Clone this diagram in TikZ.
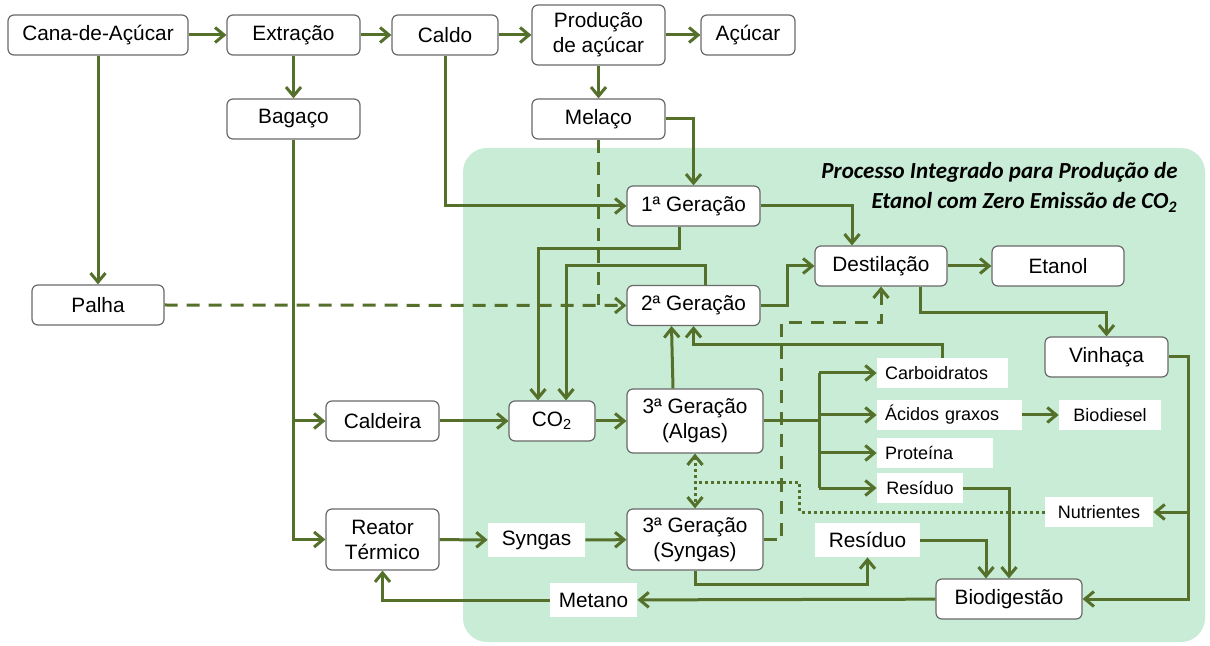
\documentclass[tikz,border=0pt]{standalone}
\usepackage{fontspec}
\setmainfont{Liberation Sans}
\newfontfamily\titlefont{Carlito}
\usetikzlibrary{arrows.meta, calc, positioning}
\definecolor{flowgreen}{RGB}{84,112,42}
\definecolor{areagreen}{RGB}{200,236,213}
\definecolor{boxgray}{RGB}{105,105,105}

\begin{document}
\begin{tikzpicture}[
    x=0.5pt, y=-0.5pt,
    every node/.style={font=\fontsize{10.4}{12.5}\selectfont},
    box/.style={draw=boxgray, fill=white, line width=0.6pt, rounded corners=3pt, minimum height=20pt, inner sep=1pt, align=center},
    lab/.style={fill=white, inner xsep=4pt, inner ysep=0pt, minimum height=15pt, text width=#1, align=left, font=\fontsize{9}{11}\selectfont},
    big_lab/.style={fill=white, inner sep=0pt, minimum height=17pt, minimum width=#1},
    pipe/.style={line width=1.5pt, flowgreen},
    flow/.style={pipe, ->, >={Straight Barb[length=4.5pt,width=7.5pt]}},
    dash_line/.style={pipe, dash pattern=on 6.5pt off 4.5pt},
    dash_flow/.style={flow, dash pattern=on 6.5pt off 4.5pt},
    dot_line/.style={pipe, dash pattern=on 1.5pt off 1.5pt},
    dot_flow/.style={flow, <->, dash pattern=on 1.5pt off 1.5pt}
]
    \useasboundingbox (0,0) rectangle (1210,646);

    % --- green area ---
    \fill[areagreen, rounded corners=12pt] (463,148) rectangle (1205,642);
    \node[anchor=north east, align=right, inner sep=0pt, font=\titlefont\bfseries\itshape\fontsize{11.5}{15}\selectfont] (title) at (1178,162)
        {Processo Integrado para Produção de\\Etanol com Zero Emissão de CO\textsubscript{2}};

    % --- top row ---
    \node[box, minimum width=90pt] (cana) at (98,35) {Cana-de-Açúcar};
    \node[box, minimum width=66.5pt] (extr) at (293.5,35) {Extração};
    \node[box, minimum width=53pt] (caldo) at (445,35) {Caldo};
    \node[box, minimum width=66.5pt, minimum height=30pt] (prod) at (598.5,35) {Produção\\de açúcar};
    \node[box, minimum width=47pt] (acucar) at (748,35) {Açúcar};
    \node[box, minimum width=66.5pt] (bagaco) at (293.5,119) {Bagaço};
    \node[box, minimum width=66.5pt] (melaco) at (598.5,119) {Melaço};

    % --- gerações ---
    \node[box, minimum width=66pt] (palha) at (98,305) {Palha};
    \node[box, minimum width=66.5pt] (g1) at (693.5,206) {1ª Geração};
    \node[box, minimum width=66.5pt] (g2) at (693.5,305.5) {2ª Geração};
    \node[box, minimum width=66pt] (destil) at (881,266) {Destilação};
    \node[box, minimum width=66pt] (etanol) at (1058,266) {Etanol};
    \node[box, minimum width=61.5pt] (vinhaca) at (1106.5,357) {Vinhaça};
    \node[box, minimum width=56.5pt] (caldeira) at (382.5,421) {Caldeira};
    \node[box, minimum width=43pt] (co2) at (552,421) {CO\textsubscript{2}};
    \node[box, minimum width=68pt, minimum height=32pt] (algas) at (695,421) {3ª Geração\\(Algas)};
    \node[box, minimum width=56.5pt, minimum height=30.5pt] (reator) at (382.5,539.5) {Reator\\Térmico};
    \node[box, minimum width=68pt, minimum height=30.5pt] (syngas3) at (695,539.5) {3ª Geração\\(Syngas)};
    \node[box, minimum width=73pt] (biodig) at (1009,599) {Biodigestão};

    % --- products ---
    \node[big_lab=48.5pt] (syngas) at (536.5,540) {Syngas};
    \node[big_lab=43.5pt] (metano) at (593.5,600) {Metano};
    \node[big_lab=52.5pt] (resid2) at (867.5,540) {Resíduo};
    \node[lab=57.5pt] (carb) at (942.5,373) {Carboidratos};
    \node[lab=64.5pt] (acidos) at (949.5,415) {Ácidos graxos};
    \node[lab=43pt, align=center] (biodsl) at (1110,415) {Biodiesel};
    \node[lab=50pt] (prot) at (935,453) {Proteína};
    \node[lab=35pt, align=center] (resid1) at (920,488) {Resíduo};
    \node[lab=46pt, align=center] (nutri) at (1099,512) {Nutrientes};

    % --- sugar line ---
    \draw[flow] (cana) -- (extr);
    \draw[flow] (extr) -- (caldo);
    \draw[flow] (caldo) -- (prod);
    \draw[flow] (prod) -- (acucar);
    \draw[flow] (extr) -- (bagaco);
    \draw[flow] (prod) -- (melaco);
    \draw[flow] (cana) -- (palha);
    \draw[flow] (caldo.south) |- (g1.west);
    \draw[flow] (melaco.east) -| (g1.north);

    % --- dashed: palha & melaço to 2ª geração ---
    \draw[dash_line] (melaco.south) -- (melaco.south |- palha.east);
    \draw[dash_flow] (palha.east) -- (g2.west);
    \draw[dash_flow] (syngas3.east) -- ++(18,0) |- ($(destil.south)+(0,36)$) -- (destil.south);

    % --- CO2 loop ---
    \draw[flow] ($(g1.south)+(-14,0)$) -- ++(0,22) -| ($(co2.north)+(-14,0)$);
    \draw[flow] ($(g2.north)+(12,0)$) -- ++(0,-19) -| ($(co2.north)+(14,0)$);
    \draw[flow] (bagaco.south) |- (reator.west);
    \draw[flow] (bagaco.south |- caldeira.west) -- (caldeira.west);
    \draw[flow] (caldeira) -- (co2);
    \draw[flow] (co2) -- (algas);

    % --- destilação ---
    \draw[flow] (g1.east) -| ($(destil.north)+(-29,0)$);
    \draw[flow] (g2.east) -- ++(27,0) |- (destil.west);
    \draw[flow] (destil) -- (etanol);
    \draw[flow] ($(destil.south)+(39,0)$) -- ++(0,26) -| (vinhaca.north);

    % --- algas products ---
    \draw[flow] ($(algas.north)+(-22,0)$) -- ($(g2.south)+(-22,0)$);
    \draw[flow] (carb.north) -- ++(0,-13) -| (g2.south);
    \coordinate (split) at (819,421);
    \draw[pipe] (algas.east) -- (split);
    \draw[pipe] (split |- carb.west) -- (split |- resid1.west);
    \foreach \n in {carb, acidos, prot, resid1}
        \draw[flow] (split |- \n.west) -- (\n.west);
    \draw[flow] (acidos) -- (biodsl);

    % --- biodigestão ---
    \draw[flow] (resid1.east) -| (biodig.north);
    \draw[flow] (resid2.east) -| ($(biodig.north)+(-23,0)$);
    \draw[flow] (syngas3.south) -- ++(0,14) -| (resid2.south);
    \draw[flow] (vinhaca.east) -- ++(20,0) |- (biodig.east);
    \draw[flow] ($(vinhaca.east)+(20,0)$) |- (nutri.east);
    \draw[flow] (biodig) -- (metano);
    \draw[flow] (metano.west) -| (reator.south);
    \draw[flow] (reator) -- (syngas);
    \draw[flow] (syngas) -- (syngas3);

    % --- nutrientes (dotted) ---
    \coordinate (dotj) at ($(algas.south)+(0,29)$);
    \draw[dot_line] (nutri.west) -- ++(-245,0) |- (dotj);
    \draw[dot_flow] (algas.south) -- (syngas3.north);

\end{tikzpicture}
\end{document}
